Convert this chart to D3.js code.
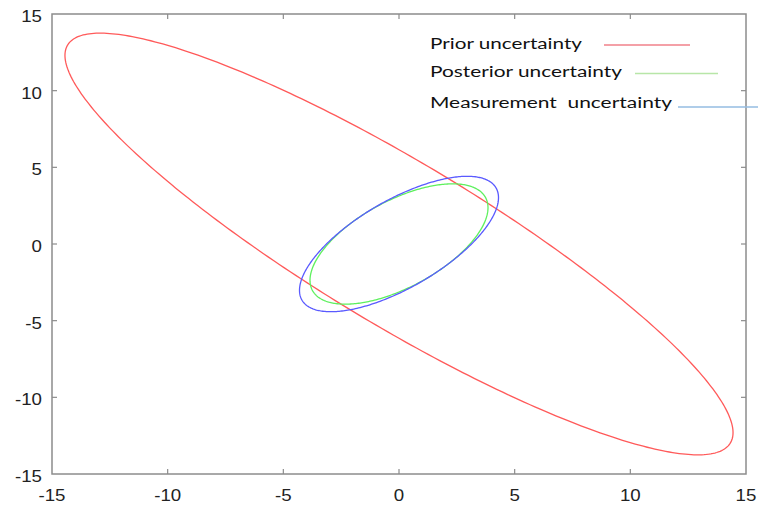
<!DOCTYPE html>
<html>
<head>
<meta charset="utf-8">
<script src="https://cdn.jsdelivr.net/npm/d3@7"></script>
<style>
  html, body { margin: 0; padding: 0; background: #fff; }
  svg { display: block; }
</style>
</head>
<body>
<svg id="chart" width="758" height="506"></svg>
<script>
// Uncertainty ellipses, each given by its 2x2 covariance (1-sigma contour scaled)
const seriesNames = ["Prior uncertainty", "Posterior uncertainty", "Measurement  uncertainty"];
const varX  = [208.5, 14.8, 18.5];
const varY  = [189.1, 15.4, 19.5];
const covXY = [-177.6, 9.1, 13.0];
const centerX = [0, 0, 0];
const centerY = [0, 0, 0];

const tickValues = [-15, -10, -5, 0, 5, 10, 15];

const curveColors  = ["#ff5a5a", "#5ef05e", "#5a5aff"];
const legendColors = ["#f0808a", "#b8e6a8", "#94bde2"];

const svg = d3.select("#chart");
const x = d3.scaleLinear().domain([-15, 15]).range([52, 746]);
const y = d3.scaleLinear().domain([-15, 15]).range([474, 14]);

const frameColor = "#8c8c8c";
const g = svg.append("g");

// frame
g.append("rect")
  .attr("x", x(-15)).attr("y", y(15))
  .attr("width", x(15) - x(-15)).attr("height", y(-15) - y(15))
  .attr("fill", "none").attr("stroke", frameColor).attr("stroke-width", 1.5);

// inward ticks on all four sides
const tickLen = 5;
tickValues.slice(1, -1).forEach(v => {
  g.append("line").attr("x1", x(v)).attr("x2", x(v)).attr("y1", y(-15)).attr("y2", y(-15) - tickLen)
    .attr("stroke", frameColor).attr("stroke-width", 1.2);
  g.append("line").attr("x1", x(v)).attr("x2", x(v)).attr("y1", y(15)).attr("y2", y(15) + tickLen)
    .attr("stroke", frameColor).attr("stroke-width", 1.2);
  g.append("line").attr("y1", y(v)).attr("y2", y(v)).attr("x1", x(-15)).attr("x2", x(-15) + tickLen)
    .attr("stroke", frameColor).attr("stroke-width", 1.2);
  g.append("line").attr("y1", y(v)).attr("y2", y(v)).attr("x1", x(15)).attr("x2", x(15) - tickLen)
    .attr("stroke", frameColor).attr("stroke-width", 1.2);
});

// tick labels
const labelFont = "'Liberation Sans', Arial, sans-serif";
tickValues.forEach(v => {
  g.append("text")
    .attr("transform", `translate(${x(v)},501) scale(1.1,1)`)
    .attr("text-anchor", "middle")
    .attr("font-family", labelFont).attr("font-size", 17).attr("fill", "#222")
    .text(v);
  g.append("text")
    .attr("transform", `translate(42,${y(v) + 8}) scale(1.1,1)`)
    .attr("text-anchor", "end")
    .attr("font-family", labelFont).attr("font-size", 17).attr("fill", "#222")
    .text(v);
});

// ellipse outlines from covariance via Cholesky factor
const angles = d3.range(0, 2 * Math.PI, Math.PI / 180);
const line = d3.line().x(d => x(d[0])).y(d => y(d[1])).curve(d3.curveLinearClosed);

seriesNames.forEach((name, i) => {
  const l11 = Math.sqrt(varX[i]);
  const l21 = covXY[i] / l11;
  const l22 = Math.sqrt(varY[i] - l21 * l21);
  const pts = angles.map(t => [
    centerX[i] + l11 * Math.cos(t),
    centerY[i] + l21 * Math.cos(t) + l22 * Math.sin(t)
  ]);
  g.append("path")
    .attr("d", line(pts))
    .attr("fill", "none")
    .attr("stroke", curveColors[i])
    .attr("stroke-width", 1.3);
});

// legend
const legendFont = "Lato, 'Open Sans', sans-serif";
const legendRows = [
  { ty: 49,  tw: 152, lx1: 604, lx2: 690, ly: 45 },
  { ty: 77,  tw: 192, lx1: 635, lx2: 718, ly: 73.5 },
  { ty: 108, tw: 242, lx1: 678, lx2: 758, ly: 107 }
];
seriesNames.forEach((name, i) => {
  const r = legendRows[i];
  g.append("text")
    .attr("x", 430).attr("y", r.ty)
    .attr("font-family", legendFont).attr("font-size", 15.5).attr("fill", "#111")
    .attr("textLength", r.tw).attr("lengthAdjust", "spacingAndGlyphs")
    .style("white-space", "pre")
    .text(name);
  g.append("line")
    .attr("x1", r.lx1).attr("x2", r.lx2).attr("y1", r.ly).attr("y2", r.ly)
    .attr("stroke", legendColors[i]).attr("stroke-width", 1.6);
});
</script>
</body>
</html>
